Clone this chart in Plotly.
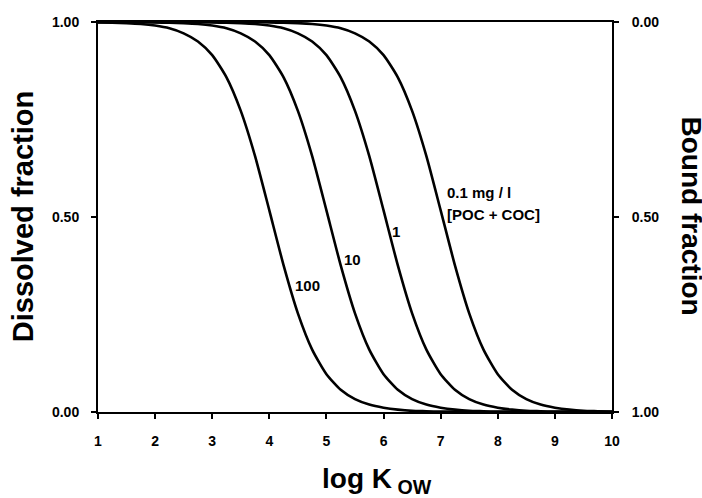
import plotly.graph_objects as go

# log Kow grid (x axis)
log_kow = [1.00, 1.25, 1.50, 1.75, 2.00, 2.25, 2.50, 2.75, 3.00, 3.25, 3.50, 3.75,
           4.00, 4.25, 4.50, 4.75, 5.00, 5.25, 5.50, 5.75, 6.00, 6.25, 6.50, 6.75,
           7.00, 7.25, 7.50, 7.75, 8.00, 8.25, 8.50, 8.75, 9.00, 9.25, 9.50, 9.75, 10.00]

# Dissolved fraction for each [POC + COC] concentration
doc_100 = [0.999, 0.998, 0.997, 0.995, 0.991, 0.984, 0.971, 0.950, 0.915, 0.858, 0.772, 0.656,
           0.517, 0.376, 0.253, 0.160, 0.097, 0.057, 0.033, 0.019, 0.011, 0.006, 0.003, 0.002,
           0.001, 0.001, 0.000, 0.000, 0.000, 0.000, 0.000, 0.000, 0.000, 0.000, 0.000, 0.000, 0.000]
doc_10 = [1.000, 1.000, 1.000, 1.000, 0.999, 0.998, 0.997, 0.995, 0.991, 0.984, 0.971, 0.950,
          0.915, 0.858, 0.772, 0.656, 0.517, 0.376, 0.253, 0.160, 0.097, 0.057, 0.033, 0.019,
          0.011, 0.006, 0.003, 0.002, 0.001, 0.001, 0.000, 0.000, 0.000, 0.000, 0.000, 0.000, 0.000]
doc_1 = [1.000, 1.000, 1.000, 1.000, 1.000, 1.000, 1.000, 1.000, 0.999, 0.998, 0.997, 0.995,
         0.991, 0.984, 0.971, 0.950, 0.915, 0.858, 0.772, 0.656, 0.517, 0.376, 0.253, 0.160,
         0.097, 0.057, 0.033, 0.019, 0.011, 0.006, 0.003, 0.002, 0.001, 0.001, 0.000, 0.000, 0.000]
doc_01 = [1.000, 1.000, 1.000, 1.000, 1.000, 1.000, 1.000, 1.000, 1.000, 1.000, 1.000, 1.000,
          0.999, 0.998, 0.997, 0.995, 0.991, 0.984, 0.971, 0.950, 0.915, 0.858, 0.772, 0.656,
          0.517, 0.376, 0.253, 0.160, 0.097, 0.057, 0.033, 0.019, 0.011, 0.006, 0.003, 0.002, 0.001]

series = [("100", doc_100), ("10", doc_10), ("1", doc_1), ("0.1", doc_01)]

x_ticks = [1, 2, 3, 4, 5, 6, 7, 8, 9, 10]
y_ticks = [0.0, 0.5, 1.0]
y_tick_text = ["0.00", "0.50", "1.00"]

FONT = "Liberation Sans, Arial, sans-serif"

fig = go.Figure()
for name, vals in series:
    fig.add_trace(go.Scatter(x=log_kow, y=vals, mode="lines", name=name,
                             line=dict(color="black", width=2.6, shape="spline", smoothing=0.6),
                             showlegend=False, hoverinfo="skip"))

# trace on the right-hand (bound fraction) axis: bound = 1 - dissolved, drawn invisibly
fig.add_trace(go.Scatter(x=log_kow, y=[1 - v for v in doc_100], yaxis="y2", mode="lines",
                         line=dict(color="rgba(0,0,0,0)", width=1), showlegend=False,
                         hoverinfo="skip"))

tickfont = dict(family=FONT, size=14, color="black", weight="bold")

fig.update_layout(
    width=702, height=498,
    margin=dict(l=98, r=90, t=22, b=86),
    paper_bgcolor="white", plot_bgcolor="white",
    xaxis=dict(range=[1, 10], tickvals=x_ticks, ticktext=[str(v) for v in x_ticks],
               ticks="outside", ticklen=5, tickwidth=2, tickcolor="black",
               showline=True, linecolor="black", linewidth=2, mirror=True,
               showgrid=False, zeroline=False, tickfont=tickfont, ticklabelstandoff=10,
               automargin=False),
    yaxis=dict(range=[0, 1], tickvals=y_ticks, ticktext=y_tick_text,
               ticks="outside", ticklen=5, tickwidth=2, tickcolor="black",
               showline=True, linecolor="black", linewidth=2,
               showgrid=False, zeroline=False, tickfont=tickfont, ticklabelstandoff=9,
               automargin=False),
    yaxis2=dict(range=[1, 0], overlaying="y", side="right",
                tickvals=y_ticks, ticktext=y_tick_text,
                ticks="outside", ticklen=5, tickwidth=2, tickcolor="black",
                showline=True, linecolor="black", linewidth=2,
                showgrid=False, zeroline=False, tickfont=tickfont, ticklabelstandoff=10,
                automargin=False),
)

lab = dict(family=FONT, size=15, color="black", weight="bold")
big = dict(family=FONT, size=28, color="black", weight="bold")
ann = [
    dict(x=4.66, y=0.325, xref="x", yref="y", text="100", showarrow=False, font=lab),
    dict(x=5.45, y=0.391, xref="x", yref="y", text="10", showarrow=False, font=lab),
    dict(x=6.22, y=0.464, xref="x", yref="y", text="1", showarrow=False, font=lab),
    dict(x=7.08, y=0.564, xref="x", yref="y", text="0.1 mg / l", showarrow=False,
         xanchor="left", font=lab),
    dict(x=7.08, y=0.507, xref="x", yref="y", text="[POC + COC]", showarrow=False,
         xanchor="left", font=lab),
    dict(x=-0.146, y=0.502, xref="paper", yref="paper", text="Dissolved fraction",
         textangle=-90, showarrow=False, xanchor="center", yanchor="middle",
         font=dict(family=FONT, size=29, color="black", weight="bold")),
    dict(x=1.155, y=0.502, xref="paper", yref="paper", text="Bound fraction",
         textangle=90, showarrow=False, xanchor="center", yanchor="middle", font=big),
    dict(x=0.432, y=-0.125, xref="paper", yref="paper", text="log K<sub> OW</sub>",
         xanchor="left", yanchor="top", showarrow=False, font=big),
]
fig.update_layout(annotations=ann)

# remove the default page margin so the 702x498 figure fills the window exactly
fig.write_html("out.html", config={"displayModeBar": False, "staticPlot": True},
               post_script="document.body.style.margin='0px';")
